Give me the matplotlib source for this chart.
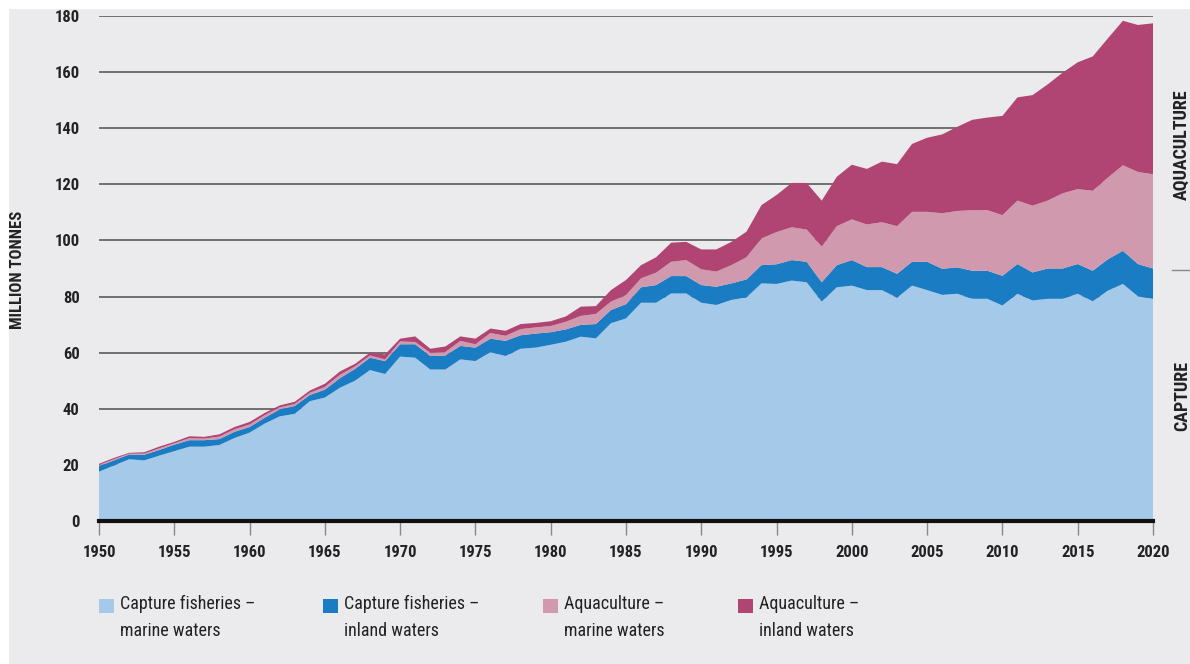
import matplotlib

matplotlib.use("Agg")
import matplotlib.pyplot as plt
import matplotlib.font_manager as fm
from matplotlib.patches import Rectangle
from matplotlib.lines import Line2D

years = list(range(1950, 2021))

# million tonnes
capture_marine = [
    17.6, 19.8, 22.0, 21.6, 23.3, 24.9, 26.5, 26.5, 27.1, 29.6,
    31.5, 34.7, 37.3, 38.2, 42.7, 44.0, 47.5, 50.0, 53.8, 52.4,
    58.6, 58.2, 54.0, 54.0, 57.6, 57.0, 60.2, 58.8, 61.4, 61.8,
    62.8, 63.9, 65.7, 65.1, 70.5, 72.2, 77.8, 77.8, 81.1, 81.1,
    77.8, 77.0, 78.8, 79.7, 84.7, 84.5, 85.7, 85.1, 78.2, 83.3,
    83.9, 82.3, 82.3, 79.6, 83.9, 82.3, 80.6, 81.0, 79.2, 79.2,
    76.8, 81.0, 78.6, 79.2, 79.2, 81.0, 78.3, 82.1, 84.5, 80.1,
    79.2,
]
capture_inland = [
    2.0, 1.8, 1.7, 2.0, 2.0, 2.3, 2.3, 2.3, 2.1, 2.2,
    2.0, 2.1, 2.5, 2.8, 2.2, 2.8, 3.4, 4.2, 4.4, 4.6,
    4.4, 4.8, 4.8, 5.0, 4.8, 4.8, 4.8, 5.4, 4.8, 5.0,
    4.5, 4.4, 4.2, 5.1, 4.7, 5.1, 5.5, 6.3, 6.2, 6.2,
    6.3, 6.5, 5.9, 6.4, 6.5, 7.0, 7.3, 7.3, 6.9, 7.9,
    9.1, 8.2, 8.2, 8.5, 8.5, 10.1, 9.3, 9.4, 10.0, 10.0,
    10.6, 10.6, 10.0, 10.8, 10.8, 10.6, 10.9, 11.2, 11.8, 11.5,
    10.8,
]
aqua_marine = [
    0.4, 0.4, 0.3, 0.4, 0.6, 0.5, 0.7, 0.6, 0.9, 0.9,
    0.9, 0.9, 0.7, 0.7, 0.8, 1.0, 1.2, 0.9, 0.8, 0.6,
    1.0, 0.8, 1.2, 1.2, 1.8, 1.2, 2.0, 1.8, 2.2, 2.2,
    2.2, 2.7, 3.2, 3.6, 3.0, 3.2, 3.2, 4.4, 5.1, 5.7,
    5.6, 5.4, 6.5, 7.9, 9.5, 11.5, 11.7, 11.5, 12.7, 13.9,
    14.5, 15.2, 16.0, 17.0, 17.8, 17.8, 19.8, 20.1, 21.6, 21.6,
    21.6, 22.6, 23.8, 24.2, 26.8, 26.7, 28.5, 29.1, 30.5, 32.8,
    33.6,
]
aqua_inland = [
    0.4, 0.5, 0.3, 0.5, 0.6, 0.5, 0.7, 0.6, 0.8, 0.8,
    0.9, 0.8, 0.7, 0.8, 0.8, 1.1, 1.2, 0.9, 1.0, 1.8,
    1.0, 2.0, 1.4, 2.0, 1.6, 2.0, 1.6, 1.8, 1.8, 1.6,
    1.7, 1.9, 3.3, 2.8, 4.1, 5.4, 4.7, 5.5, 6.8, 6.5,
    7.1, 7.9, 8.3, 9.1, 11.9, 13.2, 15.8, 16.6, 16.4, 17.6,
    19.5, 19.8, 21.6, 22.1, 24.2, 26.4, 28.1, 30.0, 32.2, 33.0,
    35.4, 36.8, 39.4, 41.4, 43.0, 45.2, 47.9, 49.6, 51.5, 52.4,
    53.8,
]

labels = [
    "Capture fisheries –\nmarine waters",
    "Capture fisheries –\ninland waters",
    "Aquaculture –\nmarine waters",
    "Aquaculture –\ninland waters",
]
colors = ["#a4c9e9", "#1a7cc3", "#d199ae", "#b04574"]
bg = "#ebebed"

# pick a condensed face if one is installed
entries = fm.fontManager.ttflist
names = {f.name for f in entries}
stretch = "normal"
family = "DejaVu Sans"
for cand in ["Roboto Condensed", "Liberation Sans Narrow", "Open Sans Condensed",
             "Noto Sans Condensed"]:
    if cand in names:
        family = cand
        break
else:
    if any(f.name == "DejaVu Sans" and f.stretch == "condensed" for f in entries):
        stretch = "condensed"
plt.rcParams["font.family"] = [family, "DejaVu Sans"]
plt.rcParams["font.stretch"] = stretch

W, H = 1190, 664
fig = plt.figure(figsize=(W / 100, H / 100), dpi=100, facecolor="white")
fig.patches.append(Rectangle((9 / W, 0), 1, 1 - 9 / H, transform=fig.transFigure,
                             facecolor=bg, edgecolor="none", zorder=-10))

ax = fig.add_axes([99 / W, 1 - 521 / H, (1153 - 99) / W, (521 - 16) / H])
ax.set_facecolor(bg)
ax.stackplot(years, capture_marine, capture_inland, aqua_marine, aqua_inland,
             colors=colors, linewidth=0, zorder=2)

ax.set_xlim(1950, 2020)
ax.set_ylim(0, 180)
ax.set_yticks(range(0, 181, 20))
ax.set_xticks(range(1950, 2021, 5))
for y in range(20, 181, 20):
    ax.axhline(y, color="#5a5a5a", lw=1.2, zorder=1)
ax.axhline(0, color="#111111", lw=3, zorder=3, clip_on=False)

for s in ax.spines.values():
    s.set_visible(False)
ax.tick_params(axis="y", length=0, pad=14, labelsize=12, labelcolor="#222222")
ax.tick_params(axis="x", length=10, width=1, color="#888888", pad=7,
               labelsize=12, labelcolor="#222222")
for t in ax.get_xticklabels() + ax.get_yticklabels():
    t.set_fontweight("bold")

fig.text(18 / W, 1 - 270 / H, "MILLION TONNES", rotation=90, ha="center",
         va="center", fontsize=12, fontweight="bold", color="#222222")

# right-hand group labels
fig.text(1182 / W, 1 - 145 / H, "AQUACULTURE", rotation=90, ha="center",
         va="center", fontsize=13, fontweight="bold", color="#222222")
fig.text(1182 / W, 1 - 396 / H, "CAPTURE", rotation=90, ha="center",
         va="center", fontsize=13, fontweight="bold", color="#222222")
fig.lines.append(Line2D([1172 / W, 1190 / W], [1 - 270 / H, 1 - 270 / H],
                        transform=fig.transFigure, color="#888888", lw=1))

# legend
leg_x = [99, 323, 543, 738]
for x, lab, c in zip(leg_x, labels, colors):
    fig.patches.append(Rectangle((x / W, 1 - 613 / H), 15 / W, 14 / H,
                                 transform=fig.transFigure, facecolor=c,
                                 edgecolor="none"))
    fig.text((x + 21) / W, 1 - 595 / H, lab, ha="left", va="top",
             fontsize=13, color="#222222", linespacing=1.65)

fig.savefig("out.png", dpi=100, facecolor=fig.get_facecolor())
